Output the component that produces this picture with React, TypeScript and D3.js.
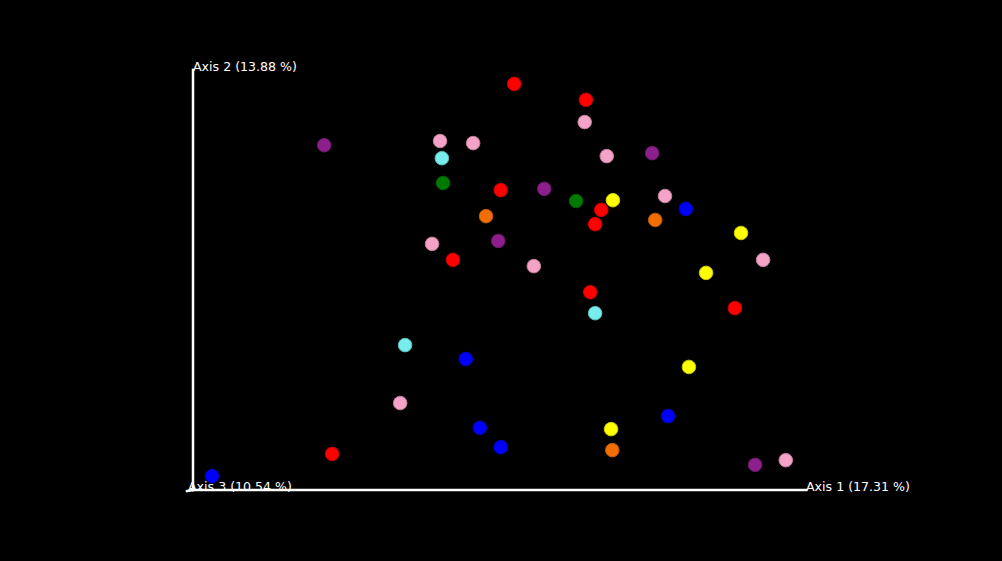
import React, { useEffect, useRef } from 'react';
import * as d3 from 'd3';

// PCoA coordinates (scaled 0-100 along the visible extent of each axis)
const axis1 = [52.4, 64.1, 63.9, 21.4, 40.3, 45.7, 40.6, 67.5, 74.9, 40.8, 50.2, 57.3, 62.5, 68.5, 66.6, 77.0, 80.4, 47.8, 65.6, 75.4, 89.4, 39.0, 49.8, 42.4, 55.6, 93.0, 83.7, 64.8, 88.4, 65.6, 34.6, 44.5, 80.9, 33.8, 46.8, 68.2, 77.5, 50.2, 68.4, 22.7, 3.1, 91.7, 96.7];
const axis2 = [96.7, 92.9, 87.6, 82.1, 83.1, 82.6, 79.0, 79.5, 80.2, 73.1, 71.4, 71.7, 68.8, 69.0, 66.7, 70.0, 66.9, 65.2, 63.3, 64.3, 61.2, 58.6, 59.3, 54.8, 53.3, 54.8, 51.7, 47.1, 43.3, 42.1, 34.5, 31.2, 29.3, 20.7, 14.8, 14.5, 17.6, 10.2, 9.5, 8.6, 3.3, 6.0, 7.1];
const groups = ['red', 'red', 'pink', 'purple', 'pink', 'pink', 'cyan', 'pink', 'purple', 'green', 'red', 'purple', 'green', 'yellow', 'red', 'pink', 'blue', 'orange', 'red', 'orange', 'yellow', 'pink', 'purple', 'red', 'pink', 'pink', 'yellow', 'red', 'red', 'cyan', 'cyan', 'blue', 'yellow', 'pink', 'blue', 'yellow', 'blue', 'blue', 'orange', 'red', 'blue', 'purple', 'pink'];
const groupNames = ['red', 'pink', 'purple', 'cyan', 'green', 'yellow', 'blue', 'orange'];
const groupColors = ['#ff0000', '#f4a3c6', '#8c1f8c', '#77eeee', '#007a00', '#ffff00', '#0000ff', '#f26e00'];
const axisLabels = ['Axis 1 (17.31 %)', 'Axis 2 (13.88 %)', 'Axis 3 (10.54 %)'];

const W = 1002, H = 561;

const App = () => {
  const svgRef = useRef<SVGSVGElement>(null);
  useEffect(() => {
    const svg = d3.select(svgRef.current);
    svg.selectAll("*").remove();

    const x = d3.scaleLinear().domain([0, 100]).range([193, 806]);
    const y = d3.scaleLinear().domain([0, 100]).range([490, 70]);
    const color = d3.scaleOrdinal<string, string>().domain(groupNames).range(groupColors);

    svg.append("rect").attr("width", W).attr("height", H).attr("fill", "#000");

    // axes
    const ax = svg.append("g").attr("stroke", "#fff").attr("stroke-width", 2.5).attr("stroke-linecap", "square");
    ax.append("line").attr("x1", x(0)).attr("y1", y(0)).attr("x2", x(100)).attr("y2", y(0));
    ax.append("line").attr("x1", x(0)).attr("y1", y(0)).attr("x2", x(0)).attr("y2", y(100));
    ax.append("line").attr("x1", x(0)).attr("y1", y(0)).attr("x2", x(0) - 6).attr("y2", y(0) + 1);

    const data = axis1.map((v, i) => ({ a: v, b: axis2[i], g: groups[i] }));
    svg.append("g").selectAll("circle").data(data).join("circle")
      .attr("cx", d => x(d.a)).attr("cy", d => y(d.b)).attr("r", 6.8)
      .attr("fill", d => color(d.g))
      .attr("stroke", d => d3.color(color(d.g))!.darker(0.7).formatHex())
      .attr("stroke-width", 1);

    const lab = svg.append("g").attr("fill", "#fff").style("font-family", "'DejaVu Sans', sans-serif").style("font-size", "12.6px");
    lab.append("text").attr("x", x(100)).attr("y", y(0) + 1).text(axisLabels[0]);
    lab.append("text").attr("x", x(0)).attr("y", y(100) + 1).text(axisLabels[1]);
    lab.append("text").attr("x", x(0) - 5).attr("y", y(0) + 1).text(axisLabels[2]);
  }, []);

  return (
    <svg ref={svgRef} width={W} height={H} style={{ position: 'fixed', left: 0, top: 0, display: 'block' }}></svg>
  );
};

export default App;
